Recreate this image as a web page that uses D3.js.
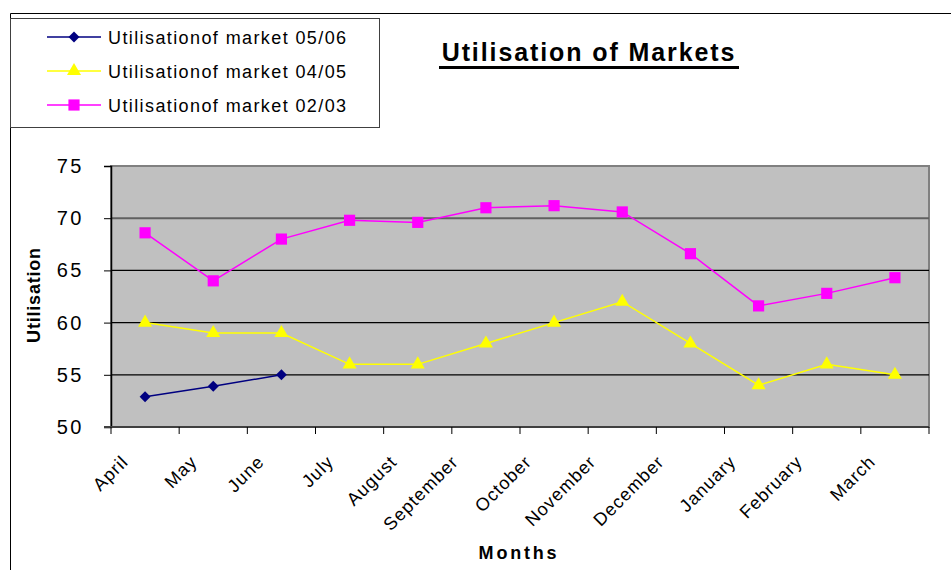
<!DOCTYPE html>
<html>
<head>
<meta charset="utf-8">
<script src="https://cdn.jsdelivr.net/npm/d3@7"></script>
<style>
  body { margin: 0; background: #fff; }
  svg { font-family: "Liberation Sans", Arial, sans-serif; }
</style>
</head>
<body>
<div id="chart"></div>
<script>
const months = ["April", "May", "June", "July", "August", "September", "October",
  "November", "December", "January", "February", "March"];
const market0506 = [52.9, 53.9, 55];
const market0405 = [60, 59, 59, 56, 56, 58, 60, 62, 58, 54, 56, 55];
const market0203 = [68.6, 64.0, 68.0, 69.8, 69.6, 71.0, 71.2, 70.6, 66.6, 61.6, 62.8, 64.3];
const yTicks = [50, 55, 60, 65, 70, 75];

const seriesList = [
  { name: "Utilisationof market 05/06", values: market0506, color: "#000080", marker: d3.symbolSquare, size: 60, rot: 45 },
  { name: "Utilisationof market 04/05", values: market0405, color: "#ffff00", marker: d3.symbolTriangle, size: 85, rot: 0 },
  { name: "Utilisationof market 02/03", values: market0203, color: "#ff00ff", marker: d3.symbolSquare, size: 125, rot: 0 }
];

const W = 951, H = 570;
const plot = { left: 111, right: 929, top: 166, bottom: 427 };

const svg = d3.select("#chart").append("svg")
  .attr("width", W)
  .attr("height", H);

// outer chart border
svg.append("path")
  .attr("d", `M10.5,${H} V13.5 H${W}`)
  .attr("fill", "none")
  .attr("stroke", "#000")
  .attr("stroke-width", 1);

const x = d3.scaleBand().domain(months).range([plot.left, plot.right]);
const y = d3.scaleLinear().domain([50, 75]).range([plot.bottom, plot.top]);

// plot background
svg.append("rect")
  .attr("x", plot.left).attr("y", plot.top)
  .attr("width", plot.right - plot.left).attr("height", plot.bottom - plot.top)
  .attr("fill", "#c0c0c0")
  .attr("stroke", "#808080")
  .attr("stroke-width", 2);

// gridlines
svg.append("g")
  .selectAll("line")
  .data(yTicks.filter(t => t > 50 && t < 75))
  .enter()
  .append("line")
  .attr("x1", plot.left).attr("x2", plot.right)
  .attr("y1", d => y(d)).attr("y2", d => y(d))
  .attr("stroke", d => d === 70 ? "#606060" : "#000")
  .attr("stroke-width", d => d === 70 ? 2 : 1.2);

// y axis
const yAxis = svg.append("g")
  .attr("transform", `translate(${plot.left},0)`)
  .call(d3.axisLeft(y).tickValues(yTicks).tickSize(7).tickPadding(20));
yAxis.select(".domain").attr("stroke", "#000").attr("stroke-width", 1.5);
yAxis.selectAll(".tick line").attr("stroke", "#000");
yAxis.selectAll(".tick text")
  .attr("font-size", 20)
  .attr("letter-spacing", 2.5)
  .attr("fill", "#000")
  .attr("font-family", "Liberation Sans, Arial, sans-serif");

// x axis: ticks at band edges
const edges = months.map(m => x(m)).concat([plot.right]);
svg.append("line")
  .attr("x1", plot.left - 7).attr("x2", plot.right)
  .attr("y1", plot.bottom).attr("y2", plot.bottom)
  .attr("stroke", "#404040").attr("stroke-width", 2);
svg.append("g")
  .selectAll("line")
  .data(edges)
  .enter()
  .append("line")
  .attr("x1", d => d).attr("x2", d => d)
  .attr("y1", plot.bottom).attr("y2", plot.bottom + 7)
  .attr("stroke", "#000");

// rotated month labels, longer labels sit a bit further left
svg.append("g")
  .selectAll("text")
  .data(months)
  .enter()
  .append("text")
  .attr("text-anchor", "end")
  .attr("font-size", 18)
  .attr("letter-spacing", 1)
  .text(d => d)
  .attr("transform", function(d) {
    const len = this.getComputedTextLength();
    return `translate(${x(d) + x.bandwidth() / 2 - 8 - 0.19 * len},${plot.bottom + 36}) rotate(-45)`;
  });

// series
const line = d3.line()
  .x((d, i) => x(months[i]) + x.bandwidth() / 2)
  .y(d => y(d));

seriesList.slice().reverse().forEach(s => {
  svg.append("path")
    .datum(s.values)
    .attr("d", line)
    .attr("fill", "none")
    .attr("stroke", s.color)
    .attr("stroke-width", 1.5);
  svg.append("g")
    .selectAll("path")
    .data(s.values)
    .enter()
    .append("path")
    .attr("d", d3.symbol().type(s.marker).size(s.size))
    .attr("transform", (d, i) => `translate(${x(months[i]) + x.bandwidth() / 2},${y(d)}) rotate(${s.rot})`)
    .attr("fill", s.color);
});

// axis titles
svg.append("text")
  .attr("transform", `translate(40,295) rotate(-90)`)
  .attr("text-anchor", "middle")
  .attr("font-size", 18)
  .attr("font-weight", "bold")
  .attr("letter-spacing", 0.8)
  .text("Utilisation");

svg.append("text")
  .attr("x", 519).attr("y", 559)
  .attr("text-anchor", "middle")
  .attr("font-size", 18)
  .attr("font-weight", "bold")
  .attr("letter-spacing", 2.8)
  .text("Months");

// title
svg.append("text")
  .attr("x", 589).attr("y", 61)
  .attr("text-anchor", "middle")
  .attr("font-size", 25)
  .attr("font-weight", "bold")
  .attr("letter-spacing", 1.9)
  .text("Utilisation of Markets");
svg.append("rect")
  .attr("x", 439).attr("y", 66)
  .attr("width", 300).attr("height", 3)
  .attr("fill", "#000");

// legend
const legend = svg.append("g");
legend.append("rect")
  .attr("x", 10.5).attr("y", 18.5)
  .attr("width", 369).attr("height", 109)
  .attr("fill", "#fff")
  .attr("stroke", "#404040");
seriesList.forEach((s, i) => {
  const ly = 37 + i * 34;
  legend.append("line")
    .attr("x1", 47).attr("x2", 101)
    .attr("y1", ly).attr("y2", ly)
    .attr("stroke", s.color).attr("stroke-width", 1.5);
  legend.append("path")
    .attr("d", d3.symbol().type(s.marker).size(s.size))
    .attr("transform", `translate(74,${ly}) rotate(${s.rot})`)
    .attr("fill", s.color);
  legend.append("text")
    .attr("x", 108).attr("y", ly + 7)
    .attr("font-size", 18)
    .attr("letter-spacing", 1.4)
    .text(s.name);
});
</script>
</body>
</html>
